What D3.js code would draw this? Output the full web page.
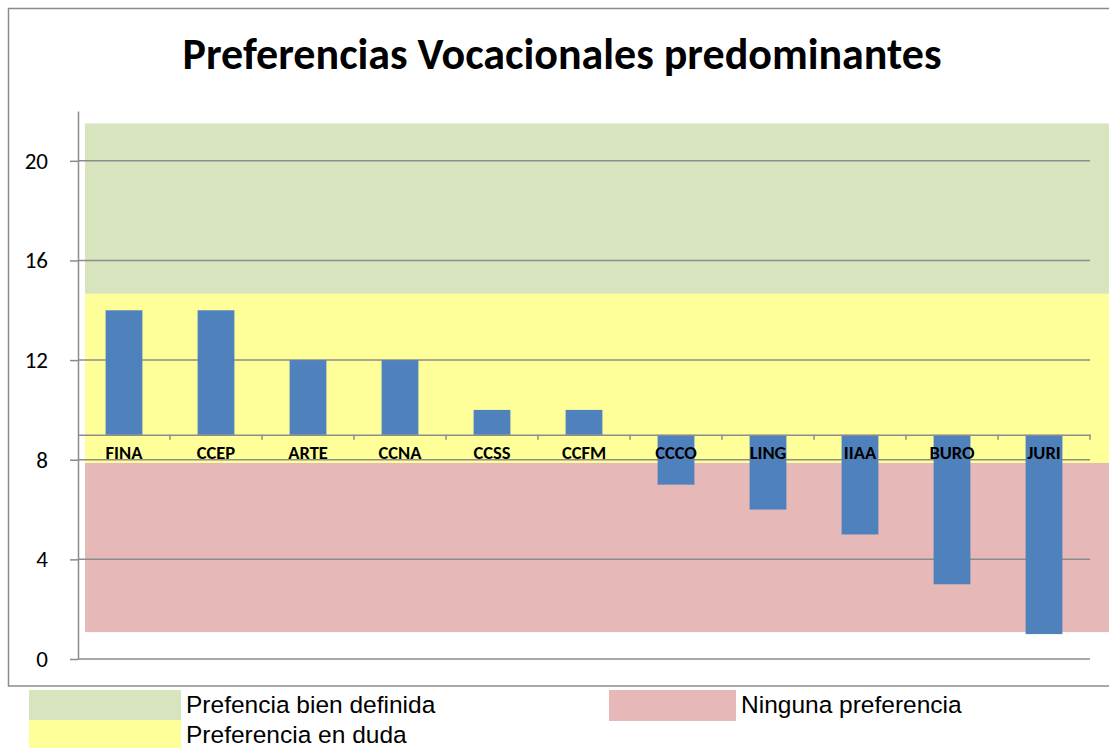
<!DOCTYPE html>
<html>
<head>
<meta charset="utf-8">
<script src="https://cdn.jsdelivr.net/npm/d3@7"></script>
<style>
  body { margin: 0; background: #fff; }
  svg { display: block; }
</style>
</head>
<body>
<div class="canvas"></div>
<script>
// data
const categories = ['FINA', 'CCEP', 'ARTE', 'CCNA', 'CCSS', 'CCFM', 'CCCO', 'LING', 'IIAA', 'BURO', 'JURI'];
const values = [14, 14, 12, 12, 10, 10, 7, 6, 5, 3, 1];
const baseline = 9;
const yTicks = [0, 4, 8, 12, 16, 20];

// background zones (low / high in axis units)
const zoneNames = ['Prefencia bien definida', 'Preferencia en duda', 'Ninguna preferencia'];
const zoneLow = [14.66, 7.87, 1.08];
const zoneHigh = [21.5, 14.66, 7.87];
const zoneColors = ['#d7e4bd', '#ffff99', '#e6b9b8'];

const width = 1109, height = 748;
const plot = { left: 78, right: 1090, top: 111, bottom: 659 };

const svg = d3.select('.canvas')
  .append('svg')
  .attr('width', width)
  .attr('height', height);

// chart frame
svg.append('rect')
  .attr('x', 8.5).attr('y', 8.5)
  .attr('width', 1130).attr('height', 677.5)
  .attr('fill', 'none')
  .attr('stroke', '#8c8c8c')
  .attr('stroke-width', 1.5);

// title
svg.append('text')
  .attr('x', 562).attr('y', 69)
  .attr('text-anchor', 'middle')
  .attr('font-family', 'Carlito, Lato, sans-serif')
  .attr('font-weight', 'bold')
  .attr('font-size', 44)
  .attr('fill', '#000')
  .text('Preferencias Vocacionales predominantes');

// scales
const y = d3.scaleLinear().domain([0, 22]).range([plot.bottom, plot.top]);
const x = d3.scaleBand()
  .domain(categories)
  .range([plot.left, plot.right])
  .paddingInner(0.6)
  .paddingOuter(0.3);

// zones
svg.append('g')
  .selectAll('rect')
  .data(zoneNames)
  .enter()
  .append('rect')
  .attr('x', 85)
  .attr('width', width)
  .attr('y', (d, i) => y(zoneHigh[i]))
  .attr('height', (d, i) => y(zoneLow[i]) - y(zoneHigh[i]))
  .attr('fill', (d, i) => zoneColors[i]);

// gridlines
svg.append('g')
  .selectAll('line')
  .data(yTicks)
  .enter()
  .append('line')
  .attr('x1', plot.left).attr('x2', plot.right)
  .attr('y1', d => y(d)).attr('y2', d => y(d))
  .attr('stroke', '#8c8c8c')
  .attr('stroke-width', 1.5);

// y axis
const yAxis = svg.append('g')
  .attr('transform', `translate(${plot.left}, 0)`)
  .call(d3.axisLeft(y).tickValues(yTicks).tickSize(8).tickSizeOuter(0).tickPadding(22));
yAxis.select('.domain').attr('stroke', '#8c8c8c').attr('stroke-width', 1.5);
yAxis.selectAll('.tick line').attr('stroke', '#8c8c8c').attr('stroke-width', 1.5);
yAxis.selectAll('text')
  .attr('font-family', 'Carlito, Lato, sans-serif')
  .attr('font-size', 23)
  .attr('fill', '#000');

// bars
svg.append('g')
  .selectAll('rect')
  .data(values)
  .enter()
  .append('rect')
  .attr('x', (d, i) => x(categories[i]))
  .attr('width', x.bandwidth())
  .attr('y', d => y(Math.max(d, baseline)))
  .attr('height', d => Math.abs(y(d) - y(baseline)))
  .attr('fill', '#4f81bd');

// category axis at the baseline
const xAxis = svg.append('g')
  .attr('transform', `translate(0, ${y(baseline)})`)
  .call(d3.axisBottom(x).tickSize(0).tickSizeOuter(0).tickPadding(11));
xAxis.select('.domain').attr('stroke', '#8c8c8c').attr('stroke-width', 1.5);
xAxis.selectAll('text')
  .attr('font-family', 'Carlito, Lato, sans-serif')
  .attr('font-weight', 'bold')
  .attr('font-size', 18.5)
  .attr('fill', '#000');

// category boundary ticks
const step = x.step();
xAxis.append('g')
  .selectAll('line')
  .data(categories)
  .enter()
  .append('line')
  .attr('x1', d => x(d) - step * 0.3 + step)
  .attr('x2', d => x(d) - step * 0.3 + step)
  .attr('y1', 0).attr('y2', 5)
  .attr('stroke', '#8c8c8c')
  .attr('stroke-width', 1.5);

// legend
const legendPos = [[29, 690], [29, 720], [609, 690]];
const legendSize = [[152, 30], [152, 30], [127, 31]];
const legend = svg.append('g')
  .selectAll('g')
  .data(zoneNames)
  .enter()
  .append('g')
  .attr('transform', (d, i) => `translate(${legendPos[i][0]}, ${legendPos[i][1]})`);

legend.append('rect')
  .attr('width', (d, i) => legendSize[i][0])
  .attr('height', (d, i) => legendSize[i][1])
  .attr('fill', (d, i) => zoneColors[i]);

legend.append('text')
  .attr('x', (d, i) => legendSize[i][0] + 5)
  .attr('y', 23)
  .attr('font-family', 'Liberation Sans, Arial, sans-serif')
  .attr('font-size', 24.5)
  .attr('fill', '#000')
  .text(d => d);
</script>
</body>
</html>
